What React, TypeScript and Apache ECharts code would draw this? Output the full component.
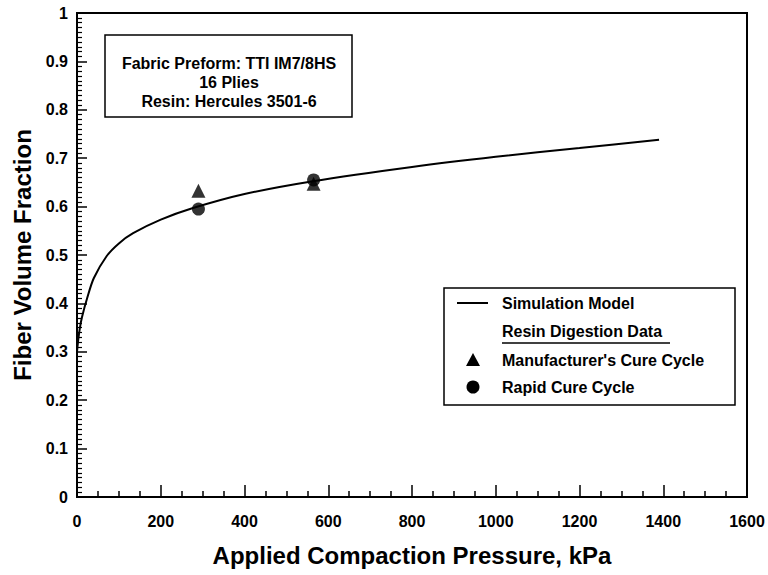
import React, { useEffect, useRef } from "react";
import * as echarts from "echarts";

// Simulation model curve: applied pressure (kPa) -> fiber volume fraction
const modelPressure = [0, 3, 7, 12, 24, 40, 71, 100, 134, 200, 277, 400, 560, 800, 1000, 1200, 1390];
const modelFraction = [0.3, 0.325, 0.35, 0.372, 0.41, 0.452, 0.498, 0.524, 0.545, 0.573, 0.597, 0.626, 0.652, 0.682, 0.703, 0.721, 0.738];

// Resin digestion data
const manufacturerPressure = [290, 565];
const manufacturerFraction = [0.633, 0.647];
const rapidPressure = [290, 565];
const rapidFraction = [0.595, 0.655];

const xTickLabels = ["0", "200", "400", "600", "800", "1000", "1200", "1400", "1600"];
const yTickLabels = ["0", "0.1", "0.2", "0.3", "0.4", "0.5", "0.6", "0.7", "0.8", "0.9", "1"];

const infoLines = ["Fabric Preform: TTI IM7/8HS", "16 Plies", "Resin: Hercules 3501-6"];
const legendNames = ["Simulation Model", "Resin Digestion Data", "Manufacturer's Cure Cycle", "Rapid Cure Cycle"];

const FONT = "'Liberation Sans', Arial, Helvetica, sans-serif";

export default function App() {
  const ref = useRef<HTMLDivElement>(null);

  useEffect(() => {
    if (!ref.current) return;
    const chart = echarts.init(ref.current, undefined, { renderer: "svg" });

    const lineData = modelPressure.map((p, i) => [p, modelFraction[i]]);
    const triData = manufacturerPressure.map((p, i) => [p, manufacturerFraction[i]]);
    const circData = rapidPressure.map((p, i) => [p, rapidFraction[i]]);

    const labelStyle = { color: "#000", fontWeight: "bold" as const, fontSize: 16, fontFamily: FONT };

    chart.setOption({
      animation: false,
      backgroundColor: "#fff",
      grid: {
        left: 77,
        right: 21,
        top: 13,
        bottom: 78,
        show: true,
        borderColor: "#000",
        borderWidth: 2,
        backgroundColor: "transparent",
      },
      xAxis: {
        type: "value",
        min: 0,
        max: 1600,
        interval: 200,
        axisLine: { show: true, onZero: false, lineStyle: { color: "#000", width: 2 } },
        axisTick: { show: true, inside: true, length: 12, lineStyle: { color: "#000", width: 1.5 } },
        minorTick: { show: true, splitNumber: 4, length: 6, lineStyle: { color: "#000", width: 1.5 } },
        splitLine: { show: false },
        axisLabel: {
          ...labelStyle,
          margin: 16,
          formatter: (v: number) => xTickLabels[Math.round(v / 200)] ?? String(v),
        },
        name: "Applied Compaction Pressure, kPa",
        nameLocation: "middle",
        nameGap: 46,
        nameTextStyle: { color: "#000", fontWeight: "bold", fontSize: 24, fontFamily: FONT },
      },
      yAxis: {
        type: "value",
        min: 0,
        max: 1,
        interval: 0.1,
        axisLine: { show: true, onZero: false, lineStyle: { color: "#000", width: 2 } },
        axisTick: { show: true, inside: true, length: 10, lineStyle: { color: "#000", width: 1.5 } },
        minorTick: { show: true, splitNumber: 10, length: 5, lineStyle: { color: "#000", width: 1.2 } },
        splitLine: { show: false },
        axisLabel: {
          ...labelStyle,
          margin: 9,
          formatter: (v: number) => yTickLabels[Math.round(v * 10)] ?? String(v),
        },
        name: "Fiber Volume Fraction",
        nameLocation: "middle",
        nameGap: 38,
        nameTextStyle: { color: "#000", fontWeight: "bold", fontSize: 24, fontFamily: FONT },
      },
      series: [
        {
          name: legendNames[0],
          type: "line",
          data: lineData,
          showSymbol: false,
          smooth: 0.3,
          lineStyle: { color: "#000", width: 2 },
          z: 3,
        },
        {
          name: legendNames[2],
          type: "scatter",
          data: triData,
          symbol: "triangle",
          symbolSize: 14,
          itemStyle: { color: "#000" },
          z: 4,
        },
        {
          name: legendNames[3],
          type: "scatter",
          data: circData,
          symbol: "circle",
          symbolSize: 13,
          itemStyle: { color: "#000" },
          z: 4,
        },
      ],
      graphic: [
        // info box
        {
          type: "rect",
          shape: { x: 105, y: 35, width: 247, height: 82 },
          style: { fill: "#fff", stroke: "#000", lineWidth: 1.5 },
          z: 10,
        },
        ...infoLines.map((t, i) => ({
          type: "text",
          x: 229,
          y: 63 + i * 19,
          style: {
            text: t,
            fill: "#000",
            font: `bold 16px ${FONT}`,
            align: "center",
            verticalAlign: "middle",
          },
          z: 11,
        })),
        // legend box
        {
          type: "rect",
          shape: { x: 444, y: 288, width: 291, height: 117 },
          style: { fill: "#fff", stroke: "#000", lineWidth: 1.5 },
          z: 10,
        },
        {
          type: "line",
          shape: { x1: 457, y1: 303, x2: 488, y2: 303 },
          style: { stroke: "#000", lineWidth: 2 },
          z: 11,
        },
        {
          type: "text",
          x: 502,
          y: 303,
          style: { text: legendNames[0], fill: "#000", font: `bold 16px ${FONT}`, verticalAlign: "middle" },
          z: 11,
        },
        {
          type: "text",
          x: 502,
          y: 331,
          style: { text: legendNames[1], fill: "#000", font: `bold 16px ${FONT}`, verticalAlign: "middle" },
          z: 11,
        },
        {
          type: "line",
          shape: { x1: 502, y1: 343, x2: 670, y2: 343 },
          style: { stroke: "#000", lineWidth: 1.5 },
          z: 11,
        },
        {
          type: "polygon",
          shape: { points: [[473, 353], [480, 366], [466, 366]] },
          style: { fill: "#000" },
          z: 11,
        },
        {
          type: "text",
          x: 502,
          y: 360,
          style: { text: legendNames[2], fill: "#000", font: `bold 16px ${FONT}`, verticalAlign: "middle" },
          z: 11,
        },
        {
          type: "circle",
          shape: { cx: 473, cy: 387, r: 6.5 },
          style: { fill: "#000" },
          z: 11,
        },
        {
          type: "text",
          x: 502,
          y: 387,
          style: { text: legendNames[3], fill: "#000", font: `bold 16px ${FONT}`, verticalAlign: "middle" },
          z: 11,
        },
      ],
    });

    return () => chart.dispose();
  }, []);

  return (
    <div
      ref={ref}
      style={{ position: "absolute", left: 0, top: 0, width: 768, height: 575 }}
    />
  );
}
